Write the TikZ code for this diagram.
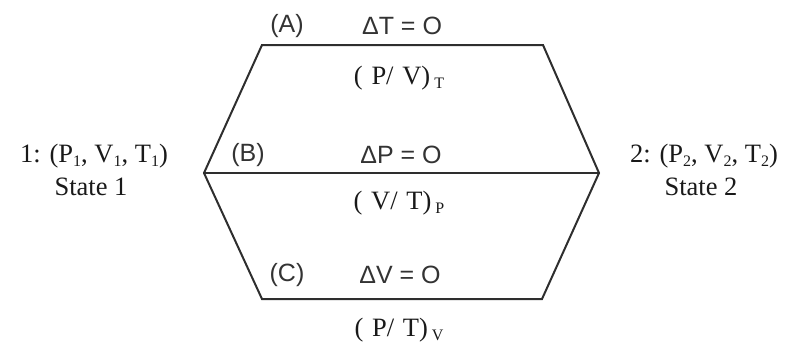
\documentclass[tikz,border=0pt]{standalone}
\usepackage{fontspec}
\setmainfont{Liberation Serif}
\newfontfamily\lblsans{Liberation Sans}
\newcommand{\lowsub}[1]{\raisebox{-0.35ex}{\fontsize{16}{16}\selectfont #1}}
\newcommand{\gap}{\hspace{0.33em}}
\begin{document}
\begin{tikzpicture}[x=1pt,y=-1pt,
  edge/.style={line width=2pt,draw=black!82,line join=miter},
  serif/.style={font=\fontsize{26.5}{30}\selectfont,inner sep=0pt,text=black!90},
  sans/.style={font=\lblsans\fontsize{25}{28}\selectfont,inner sep=0pt,text=black!80}]
\useasboundingbox (0,0) rectangle (794,341);
% vertices
\coordinate (L) at (204,173);
\coordinate (R) at (599,173);
\coordinate (TL) at (262,45);
\coordinate (TR) at (543,45);
\coordinate (BL) at (262,299);
\coordinate (BR) at (542,299);
% edges
\draw[edge] (L) -- (TL) -- (TR) -- (R) -- (BR) -- (BL) -- cycle;
\draw[edge] (L) -- (R);
% path labels
\node[sans] (A) at (287,26) {(A)};
\node[sans] (dT) at (402,26) {ΔT = O};
\node[serif] (PVT) at (399,78) {(\gap P/\gap V)\hspace{0.15em}\lowsub{T}};
\node[sans] (B) at (248,155) {(B)};
\node[sans] (dP) at (401,155) {ΔP = O};
\node[serif] (VTP) at (399,203) {(\gap V/\gap T)\hspace{0.15em}\lowsub{P}};
\node[sans] (C) at (287,275) {(C)};
\node[sans] (dV) at (400,275) {ΔV = O};
\node[serif] (PTV) at (399,330) {(\gap P/\gap T)\hspace{0.15em}\lowsub{V}};
% states
\node[serif] (s1a) at (94,156) {1: (P\lowsub{1}, V\lowsub{1}, T\lowsub{1})};
\node[serif] (s1b) at (91,187) {State 1};
\node[serif] (s2a) at (704,156) {2: (P\lowsub{2}, V\lowsub{2}, T\lowsub{2})};
\node[serif] (s2b) at (701,187) {State 2};
\end{tikzpicture}
\end{document}
